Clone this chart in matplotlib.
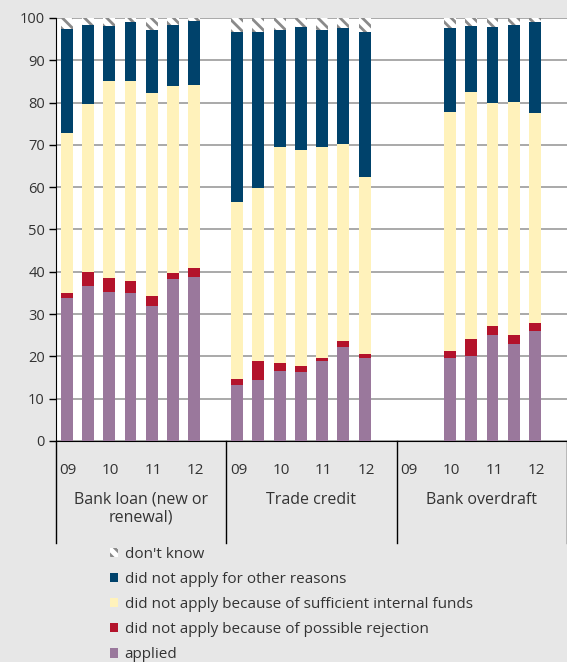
import matplotlib
matplotlib.use('Agg')
import matplotlib.pyplot as plt
from matplotlib.patches import Patch
import numpy as np

plt.rcParams['font.family'] = ['Open Sans', 'DejaVu Sans']
plt.rcParams['hatch.linewidth'] = 2.0

# ---- data ----
periods = ['09H1', '09H2', '10H1', '10H2', '11H1', '11H2', '12H1']
period_labels = ['09', '', '10', '', '11', '', '12']
groups = ['Bank loan (new or\nrenewal)', 'Trade credit', 'Bank overdraft']
series_names = ['applied',
                'did not apply because of possible rejection',
                'did not apply because of sufficient internal funds',
                'did not apply for other reasons',
                "don't know"]

loan_applied   = [33.7, 36.6, 35.3, 35.0, 32.0, 38.2, 38.8]
loan_rejection = [1.4, 3.3, 3.2, 2.9, 2.2, 1.6, 2.2]
loan_internal  = [37.6, 39.8, 46.6, 47.2, 48.1, 44.2, 43.2]
loan_other     = [24.6, 18.7, 13.1, 13.9, 14.9, 14.4, 15.0]
loan_dontknow  = [2.7, 1.6, 1.8, 1.0, 2.8, 1.6, 0.8]

trade_applied   = [13.2, 14.5, 16.6, 16.4, 18.8, 22.3, 19.6]
trade_rejection = [1.5, 4.3, 1.9, 1.4, 0.9, 1.4, 0.9]
trade_internal  = [41.9, 41.0, 51.0, 50.9, 49.8, 46.5, 42.0]
trade_other     = [40.0, 36.8, 27.7, 29.2, 27.6, 27.4, 34.1]
trade_dontknow  = [3.4, 3.4, 2.8, 2.1, 2.9, 2.4, 3.4]

nan = np.nan
overdraft_applied   = [nan, nan, 19.7, 20.0, 25.1, 22.9, 25.9]
overdraft_rejection = [nan, nan, 1.6, 4.0, 2.1, 2.2, 2.1]
overdraft_internal  = [nan, nan, 56.5, 58.6, 52.8, 55.0, 49.5]
overdraft_other     = [nan, nan, 19.8, 15.6, 17.9, 18.3, 21.5]
overdraft_dontknow  = [nan, nan, 2.4, 1.8, 2.1, 1.6, 1.0]

group_data = [
    [loan_applied, loan_rejection, loan_internal, loan_other, loan_dontknow],
    [trade_applied, trade_rejection, trade_internal, trade_other, trade_dontknow],
    [overdraft_applied, overdraft_rejection, overdraft_internal, overdraft_other, overdraft_dontknow],
]

colors = ['#9a789c', '#b3132b', '#fff2bb', '#00426b', 'white']
hatches = [None, None, None, None, '\\\\\\']

# ---- figure ----
W, H = 567, 662
fig = plt.figure(figsize=(W / 100, H / 100), dpi=100, facecolor='#e7e7e7')
ax = fig.add_axes([56 / W, 1 - 441 / H, 1 - 56 / W, (441 - 18) / H])
ax.set_facecolor('white')

slots_per_group = len(periods) + 1
bar_w = 0.56
for g, data in enumerate(group_data):
    x = np.arange(len(periods)) + g * slots_per_group
    bottom = np.zeros(len(periods))
    for s, vals in enumerate(data):
        v = np.array(vals, dtype=float)
        mask = ~np.isnan(v)
        ax.bar(x[mask], v[mask], bar_w, bottom=bottom[mask],
               color=colors[s], hatch=hatches[s],
               edgecolor='#8a8a8a' if hatches[s] else colors[s],
               linewidth=0, zorder=3)
        bottom = bottom + np.nan_to_num(v)

n_slots = slots_per_group * len(groups)
ax.set_xlim(-0.5, n_slots - 0.5)
ax.set_ylim(0, 100)
ax.set_yticks(np.arange(0, 101, 10))
ax.yaxis.grid(True, color='#a3a3a3', linewidth=1.3, zorder=0)
ax.set_axisbelow(True)
for sp in ['top', 'right']:
    ax.spines[sp].set_visible(False)
ax.spines['left'].set_color('black')
ax.spines['bottom'].set_color('black')
ax.tick_params(axis='y', length=5, width=1, colors='black', labelcolor='#333333',
               labelsize=10.5, pad=3)

# x tick labels (period labels)
xt, xl = [], []
for g in range(len(groups)):
    for i, lab in enumerate(period_labels):
        if lab:
            xt.append(i + g * slots_per_group + 0.07)
            xl.append(lab)
ax.set_xticks(xt, xl)
ax.tick_params(axis='x', length=0, labelsize=11, labelcolor='#333333', pad=15.5)

# group dividers & labels
div_bottom = -(543 - 441) / (441 - 18)
trans = ax.get_xaxis_transform()
for g in range(len(groups) + 1):
    xd = g * slots_per_group - 0.5
    ax.plot([xd, xd], [0, div_bottom], color='black', linewidth=1,
            transform=trans, clip_on=False)
for g, name in enumerate(groups):
    xc = g * slots_per_group + (slots_per_group - 1) / 2
    ax.text(xc, -(492 - 441) / (441 - 18), name, transform=trans,
            ha='center', va='top', fontsize=11.5, color='#333333',
            linespacing=1.1)

# legend
handles = [Patch(facecolor=colors[s], edgecolor='#8a8a8a' if hatches[s] else colors[s],
                 hatch=hatches[s], linewidth=0) for s in range(len(series_names))][::-1]
labels = series_names[::-1]
fig.legend(handles, labels, loc='upper left', bbox_to_anchor=(110 / W, 1 - 547 / H),
           frameon=False, fontsize=11, handlelength=0.55, handleheight=0.55,
           handletextpad=0.4, labelspacing=0.66, borderaxespad=0, borderpad=0,
           labelcolor='#333333')

fig.savefig('out.png', dpi=100, facecolor=fig.get_facecolor())
